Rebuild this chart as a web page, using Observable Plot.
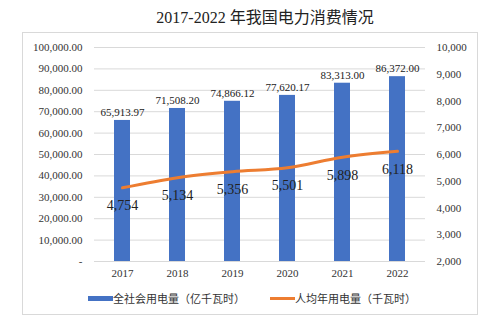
<!DOCTYPE html>
<html><head><meta charset="utf-8">
<script src="https://cdn.jsdelivr.net/npm/d3@7"></script>
<script src="https://cdn.jsdelivr.net/npm/@observablehq/plot@0.6"></script>
<style>
body{margin:0;background:#fff;}
#wrap{position:relative;width:494px;height:322px;font-family:"Liberation Serif","Noto Sans CJK SC",serif;}
#box{position:absolute;left:22px;top:32px;width:454px;height:281px;border:1px solid #d9d9d9;}
#title{position:absolute;left:0;width:530px;top:4px;text-align:center;font-size:16px;color:#222;}
#chart{position:absolute;left:0;top:30px;}
#legend{position:absolute;top:290px;left:88px;font-size:11px;color:#333;font-family:"Noto Sans CJK SC",sans-serif;display:flex;align-items:center;}
.sw{display:inline-block;width:25px;}
</style></head><body>
<div id="wrap">
<div id="box"></div>
<div id="title">2017-2022 年我国电力消费情况</div>
<div id="chart"></div>
<div id="legend">
<span class="sw" style="height:5px;background:#4472C4"></span><span>全社会用电量（亿千瓦时）</span>
<span class="sw" style="height:3px;background:#ED7D31;margin-left:25px"></span><span>人均年用电量（千瓦时）</span>
</div>
</div>
<script>
const years = ["2017","2018","2019","2020","2021","2022"];
const totalUse = [65913.97, 71508.20, 74866.12, 77620.17, 83313.00, 86372.00];
const perCapita = [4754, 5134, 5356, 5501, 5898, 6118];
const leftTicks = [0,10000,20000,30000,40000,50000,60000,70000,80000,90000,100000];
const rightTicks = [2000,3000,4000,5000,6000,7000,8000,9000,10000];

// map right axis (2000..10000) onto left scale (0..100000)
const toLeft = v => (v - 2000) * 12.5;
const data = years.map((y,i)=>({year:y,total:totalUse[i],pc:perCapita[i],pcL:toLeft(perCapita[i])}));
const fmt2 = d3.format(",.2f");
const fmt0 = d3.format(",");

const chart = Plot.plot({
  width:494, height:260,
  marginLeft:94, marginRight:69, marginTop:17, marginBottom:29,
  style:{fontFamily:"Liberation Serif, serif", fontSize:"11px", color:"#333", background:"transparent"},
  x:{domain:years, paddingInner:0.71, paddingOuter:0.355, label:null},
  y:{domain:[0,100000], label:null},
  marks:[
    Plot.gridY(leftTicks,{stroke:"#d9d9d9", strokeOpacity:1}),
    Plot.axisY({ticks:leftTicks, tickSize:0, tickPadding:12, label:null, tickFormat:d=> d===0 ? "-" : fmt2(d)}),
    Plot.axisY({anchor:"right", ticks:rightTicks.map(toLeft), tickSize:0, tickPadding:11, label:null, tickFormat:d=>fmt0(d/12.5+2000)}),
    Plot.axisX({tickSize:0, tickPadding:8, label:null}),
    Plot.barY(data,{x:"year", y:"total", fill:"#4472C4"}),
    Plot.line(data,{x:"year", y:"pcL", stroke:"#ED7D31", strokeWidth:3, curve:"catmull-rom"}),
    Plot.text(data,{x:"year", y:"total", text:d=>fmt2(d.total), dy:-8, fill:"#222", fontSize:11}),
    Plot.text(data,{x:"year", y:"pcL", text:d=>fmt0(d.pc), dy:18, fill:"#222", fontSize:14})
  ]
});
document.getElementById("chart").appendChild(chart);
</script>
</body></html>
